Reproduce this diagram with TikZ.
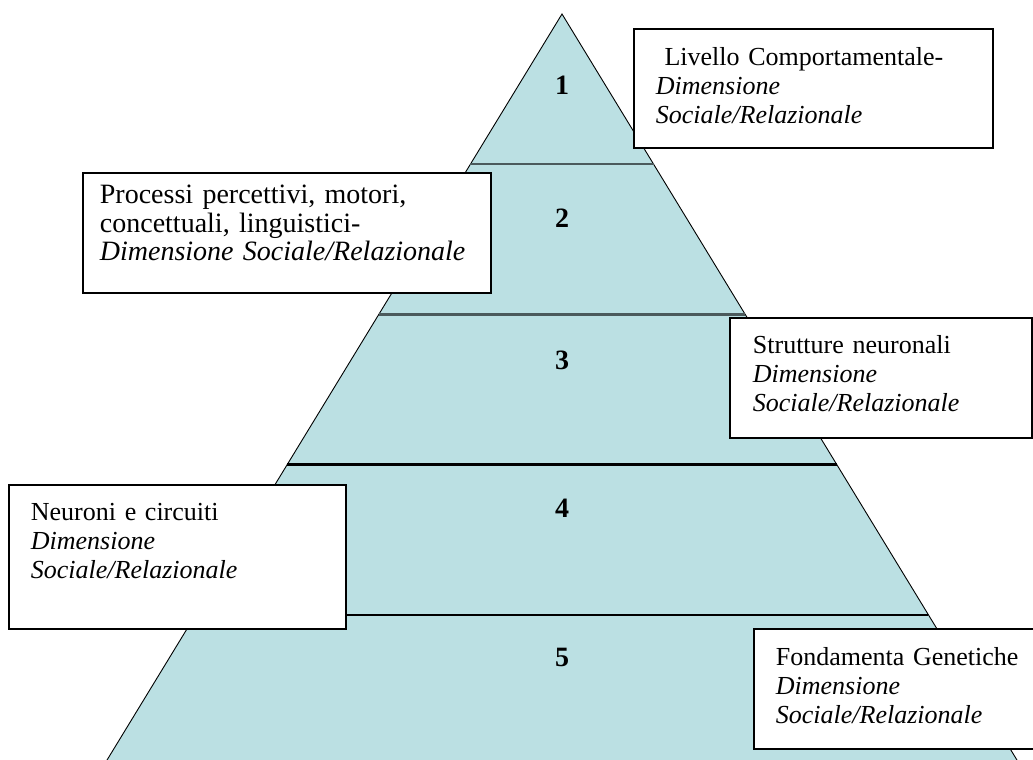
\documentclass[tikz,border=0pt]{standalone}
\usepackage{fontspec}
\setmainfont{Liberation Serif}
\usetikzlibrary{calc}
\definecolor{pyramid}{RGB}{187,224,227}
\definecolor{cutgray}{RGB}{75,90,92}

\begin{document}
\begin{tikzpicture}
            [x=1pt, y=-1pt,
             layer/.style={fill=pyramid, draw=black, line width=0.9pt},
             cut/.style={line width=2.4pt},
             num/.style={font=\fontsize{28}{28}\selectfont\bfseries},
             note/.style={draw=black, fill=white, line width=1.8pt, anchor=north west,
                          align=left, inner ysep=0pt, font=\fontsize{26}{29}\selectfont}]
            \useasboundingbox (0, 0) rectangle (1033, 760);
            \clip (0, 0) rectangle (1033, 760);

            % pyramid
            \coordinate (top) at (562, 14);
            \coordinate (bl) at (104, 765);
            \coordinate (br) at (1020, 765);
            \draw[layer] (top) -- (bl) -- (br) -- cycle;

            \foreach \t/\c in {0.2/cutgray, 0.4/cutgray, 0.6/black, 0.8/black}
                \draw[cut, draw=\c] ($(top)!\t!(bl)$) -- ($(top)!\t!(br)$);

            % levels
            \node[num] (n1) at (562, 85) {1};
            \node[num] (n2) at (562, 218) {2};
            \node[num] (n3) at (562, 360) {3};
            \node[num] (n4) at (562, 508) {4};
            \node[num] (n5) at (562, 657) {5};

            % labels
            \node[note, inner xsep=22pt, text width=315pt, text height=37pt, text depth=82pt] (b1) at (633, 28)
                {\ Livello~Comportamentale-\\ \textit{Dimensione}\\ \textit{Sociale/Relazionale}};
            \node[note, inner xsep=17pt, text width=374pt, text height=31pt, text depth=89pt,
                  font=\fontsize{28}{28.5}\selectfont] (b2) at (82, 172)
                {Processi~percettivi,~motori,\\ concettuali,~linguistici-\\ \textit{Dimensione~Sociale/Relazionale}};
            \node[note, inner xsep=23pt, text width=256pt, text height=36pt, text depth=84pt] (b3) at (729, 317)
                {Strutture~neuronali\\ \textit{Dimensione}\\ \textit{Sociale/Relazionale}};
            \node[note, inner xsep=22pt, text width=293pt, text height=36pt, text depth=108pt] (b4) at (8, 484)
                {Neuroni~e~circuiti\\ \textit{Dimensione}\\ \textit{Sociale/Relazionale}};
            \node[note, inner xsep=22pt, text width=243pt, text height=37pt, text depth=83pt] (b5) at (753, 628)
                {Fondamenta~Genetiche\\ \textit{Dimensione}\\ \textit{Sociale/Relazionale}};
\end{tikzpicture}
\end{document}
